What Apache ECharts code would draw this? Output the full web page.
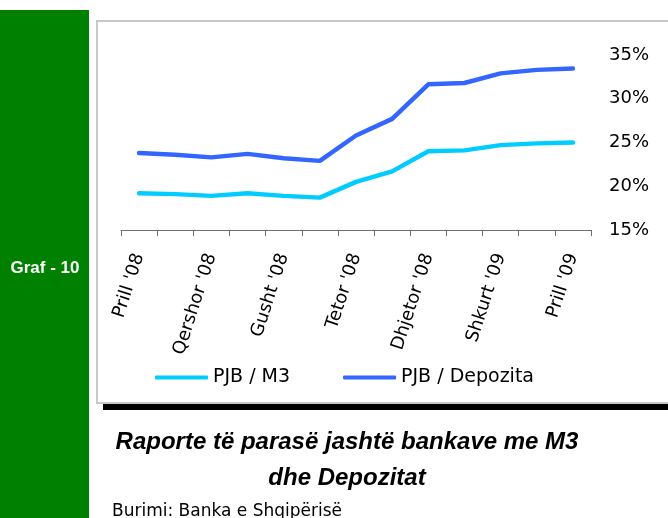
<!DOCTYPE html>
<html>
<head>
<meta charset="utf-8">
<script src="https://cdn.jsdelivr.net/npm/echarts@6/dist/echarts.min.js"></script>
<style>
  html, body { margin: 0; padding: 0; background: #fff; }
  #main { width: 668px; height: 518px; }
</style>
</head>
<body>
<div id="main"></div>
<script>
var months = ["Prill '08", "Maj '08", "Qershor '08", "Korrik '08", "Gusht '08", "Shtator '08",
    "Tetor '08", "Nëntor '08", "Dhjetor '08", "Janar '09", "Shkurt '09", "Mars '09", "Prill '09"];
var pjbM3 = [19.2, 19.1, 18.9, 19.2, 18.9, 18.7, 20.5, 21.7, 24.0, 24.1, 24.7, 24.9, 25.0];
var pjbDepozita = [23.8, 23.6, 23.3, 23.7, 23.2, 22.9, 25.8, 27.7, 31.65, 31.8, 32.9, 33.3, 33.45];
var yTicks = { min: 15, max: 35, step: 5 };

var font = 'DejaVu Sans';

var myChart = echarts.init(document.getElementById('main'));
myChart.setOption({
    animation: false,
    graphic: [
        // green side bar
        { type: 'rect', z: -10, shape: { x: 0, y: 10, width: 89, height: 508 }, style: { fill: '#008000' } },
        { type: 'text', z: 10, style: { x: 45, y: 268, text: 'Graf - 10', fill: '#fff',
            font: 'bold 17px "Liberation Sans"', textAlign: 'center', textVerticalAlign: 'middle' } },
        // chart frame
        { type: 'rect', z: -10, shape: { x: 97, y: 21, width: 600, height: 382 },
            style: { fill: '#fff', stroke: '#c8c8c8', lineWidth: 2 } },
        { type: 'rect', z: -9, shape: { x: 103, y: 404, width: 565, height: 6 }, style: { fill: '#000' } },
        // caption
        { type: 'text', style: { x: 347, y: 442, text: 'Raporte të parasë jashtë bankave me M3',
            font: 'italic bold 24px "Liberation Sans"', fill: '#000', textAlign: 'center', textVerticalAlign: 'middle' } },
        { type: 'text', style: { x: 347, y: 478, text: 'dhe Depozitat',
            font: 'italic bold 24px "Liberation Sans"', fill: '#000', textAlign: 'center', textVerticalAlign: 'middle' } },
        { type: 'text', style: { x: 112, y: 512, text: 'Burimi: Banka e Shqipërisë',
            font: '17px "DejaVu Sans"', fill: '#000', textAlign: 'left', textVerticalAlign: 'middle' } }
    ],
    legend: {
        left: 155,
        top: 368,
        padding: 0,
        icon: 'roundRect',
        itemWidth: 53,
        itemHeight: 4,
        itemGap: 53,
        textStyle: { fontFamily: font, fontSize: 19, color: '#000' },
        data: ['PJB / M3', 'PJB / Depozita']
    },
    grid: { left: 121, right: 77, top: 55, bottom: 288, containLabel: false },
    xAxis: {
        type: 'category',
        data: months,
        boundaryGap: true,
        axisLine: { lineStyle: { color: '#707070', width: 1 } },
        axisTick: { show: true, interval: 0, length: 6, lineStyle: { color: '#707070', width: 1 } },
        axisLabel: { interval: 1, rotate: 72, margin: 24, fontFamily: font, fontSize: 18, color: '#000' }
    },
    yAxis: {
        type: 'value',
        position: 'right',
        min: yTicks.min,
        max: yTicks.max,
        interval: yTicks.step,
        axisLine: { show: false },
        axisTick: { show: false },
        splitLine: { show: false },
        axisLabel: { formatter: '{value}%', margin: 18, fontFamily: font, fontSize: 18, color: '#000' }
    },
    series: [
        {
            name: 'PJB / M3',
            type: 'line',
            data: pjbM3,
            symbol: 'none',
            color: '#00ccff',
            lineStyle: { width: 4.5, color: '#00ccff', cap: 'round' }
        },
        {
            name: 'PJB / Depozita',
            type: 'line',
            data: pjbDepozita,
            symbol: 'none',
            color: '#3366ff',
            lineStyle: { width: 4.5, color: '#3366ff', cap: 'round' }
        }
    ]
});
</script>
</body>
</html>
